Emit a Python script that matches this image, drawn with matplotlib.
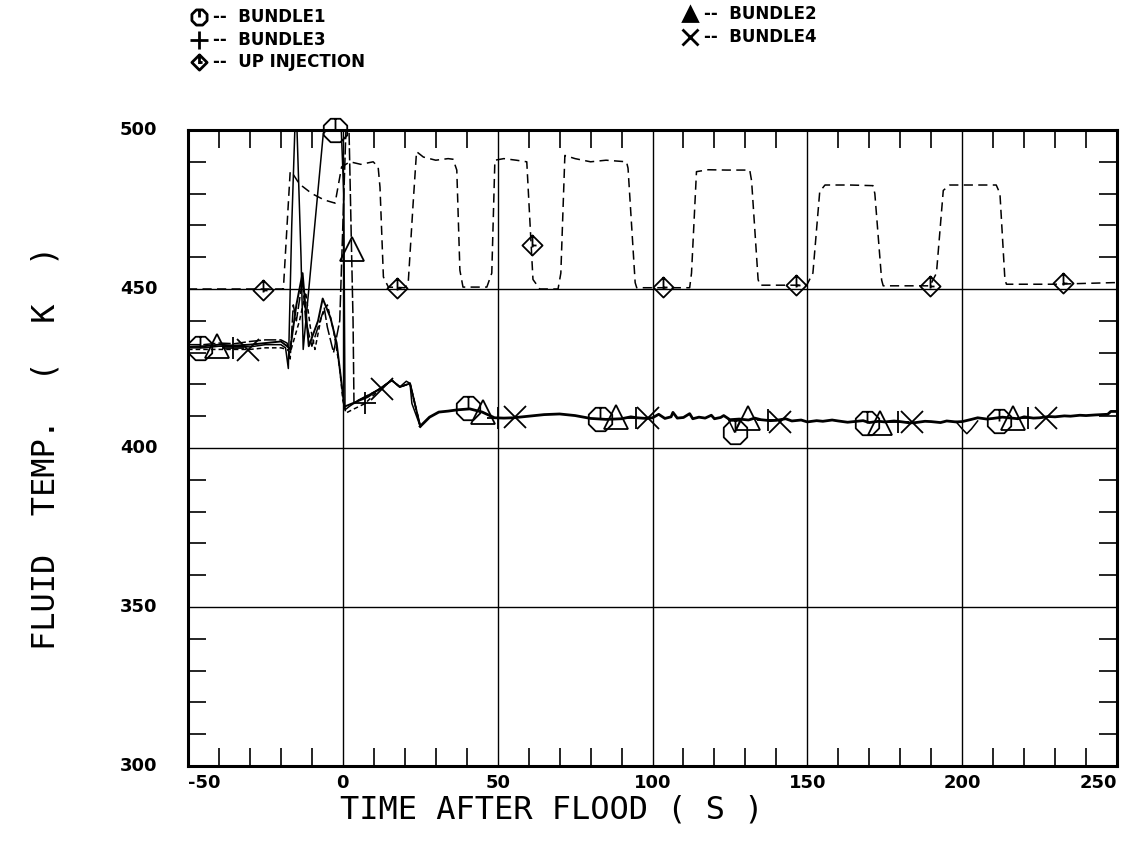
import numpy as np
import matplotlib
matplotlib.use("Agg")
import matplotlib.pyplot as plt
from matplotlib.path import Path
from matplotlib.lines import Line2D

# ---------------- data ----------------
# shared settled tail of the four bundle traces (after reflood)
tail_x = [25, 28, 31, 34, 37, 41, 45, 49, 52, 55, 60, 65, 70, 75, 80, 85, 90, 93, 95, 98,
          100, 102, 104, 106, 106.6, 108, 110, 112, 113, 115, 117, 119, 120, 122, 123, 125,
          128, 131, 133, 135, 138, 140, 143, 145, 148, 150, 153, 155, 158, 160, 163, 165,
          168, 170, 173, 175, 178, 180, 183, 185, 188, 190, 193, 195, 198, 200, 203, 205,
          208, 210, 213, 215, 218, 220, 223, 225, 228, 230, 233, 235, 238, 240, 243, 245,
          247, 248, 250]
tail_y = [406.8, 409.7, 411.3, 411.6, 412.0, 412.3, 411.3, 409.5, 409.4, 409.5, 410.0, 410.5,
          410.7, 410.2, 409.3, 409.0, 409.2, 409.8, 409.5, 409.3, 409.5, 410.6, 409.3, 409.8,
          411.2, 409.4, 409.6, 410.8, 409.2, 409.7, 409.4, 410.3, 409.2, 409.6, 410.2, 408.9,
          409.1, 408.8, 409.4, 408.9, 408.6, 408.7, 409.2, 408.5, 408.8, 408.2, 408.6, 408.4,
          408.8, 408.5, 408.1, 408.3, 408.6, 408.0, 408.4, 408.2, 408.5, 408.3, 407.9, 408.0,
          408.4, 408.3, 408.0, 408.5, 408.2, 408.3, 409.0, 409.5, 409.1, 409.3, 409.7, 409.5,
          409.2, 409.8, 409.4, 409.5, 409.9, 409.8, 410.1, 410.0, 410.3, 410.2, 410.4, 410.5,
          410.6, 411.5, 411.5]

b1_x = [-50, -45, -40, -35, -30, -25, -20, -18.5, -17.6, -16.5, -15.5, -14.8, -13.5, -12.8,
        -6.3, -5, -2.5, -0.5, 0.3, 0.7, 2, 5, 8, 12, 15.8, 18.4, 20.5, 21.7, 22.3, 25]
b1_y = [431.5, 431.5, 432, 432, 431.8, 432.5, 432.5, 431.5, 425, 470, 500, 500, 460, 431,
        499, 500, 500, 500, 480, 412, 413, 415, 416.5, 418.6, 421.3, 419.2, 421,
        420.3, 414, 406.8]
b1_dip_x = [124.5, 126.5, 128.5]
b1_dip_y = [409, 405, 409]

b2_x = [-50, -45, -40, -35, -30, -25, -20, -18, -17, -16, -15, -13, -12, -10, -8, -6, -5,
        -3, -1, 0, 1, 2, 2.8, 3.3, 3.6, 5, 8, 12, 15.8, 18.4, 21.7, 25]
b2_y = [432.5, 432.5, 433, 432.8, 433.5, 434, 434, 433, 428, 445, 440, 453, 440, 432, 438,
        444, 438, 430, 440, 470, 500, 500, 462.7, 440, 414, 415, 416.5, 418.6, 421.3, 419.2,
        420.3, 406.8]

b3_x = [-50, -45, -40, -35, -30, -25, -20, -18, -17, -14, -12, -10.5, -9, -7, -5, -3, -1,
        0, 1, 3, 7.2, 12, 15.8, 18.4, 21.7, 25]
b3_y = [431, 431, 431, 431, 431, 431.5, 431.5, 431, 430, 440, 449, 438, 431, 441, 445, 437,
        425, 415, 411, 412, 414, 418.6, 421.3, 419.2, 420.3, 406.8]
b3_hook_x = [198, 200, 201.5, 203, 205]
b3_hook_y = [408.3, 406, 404.5, 406, 408.5]

b4_x = [-50, -45, -40, -35, -30, -25, -20, -18, -17, -15, -13, -11, -8, -6.5, -4, -2,
        -0.5, 0.5, 3, 8, 12.5, 15.8, 18.4, 21.7, 25]
b4_y = [431.8, 432, 432.5, 432.2, 432.5, 433, 433.5, 432, 431, 445, 455, 432, 440, 447,
        441, 433, 421, 413, 414, 416, 419, 421.3, 419.2, 420.3, 406.8]

up_x = [-50, -30, -20, -19.2, -17, -16, -14, -10, -6, -2.5, -0.4, 2.3, 5.8, 9.8, 11.4, 12,
        13.1, 14.7, 20, 21.1, 22.7, 23.8, 26, 30, 34, 35.6, 36.8, 37.8, 38.8, 46.5, 48.1,
        49.1, 52, 56, 59.4, 61.4, 63.6, 69.5, 70.4, 71.7, 75, 80, 85, 91.6, 92.1, 94.4,
        94.9, 112, 112.6, 114.2, 118, 124, 131.4, 132, 134.1, 134.7, 149.8, 151.8, 154,
        155.7, 163.7, 171.2, 171.8, 174, 174.5, 189.6, 191.7, 193.9, 196, 211, 212.2,
        213.8, 214.3, 230, 248.7, 250]
up_y = [450, 450, 450, 450, 487, 486, 483, 480, 478, 477, 488.4, 490, 489.2, 490, 488.4,
        482, 453.8, 450.6, 450.4, 451.7, 476.9, 493.2, 491.5, 490.5, 491, 490.8, 487.4,
        455.9, 450.6, 450.6, 455, 490.5, 491, 490.5, 490, 453, 450, 450, 455, 492, 491,
        490, 490.5, 490, 488, 452, 450.4, 450.4, 455, 486.9, 487.5, 487.4, 487.4, 484,
        453, 451.2, 451.2, 455, 480.6, 482.7, 482.7, 482.5, 480, 452.8, 451, 451, 455,
        481, 482.7, 482.7, 480, 453, 451.5, 451.5, 452, 452]

# marker positions
b1_mx = [-46.1, -2.5, 40.4, 83.2, 126.5, 169.2, 211.9]
b1_my = [431.3, 500, 412.5, 409, 405, 408, 408.5]
b2_mx = [-40.7, 2.8, 45.3, 88.2, 131, 173.6, 216.3]
b2_my = [432, 462.7, 411.3, 409.8, 409.5, 408, 409.5]
b3_mx = [-35.5, 7.2, 50.1, 94.7, 137.3, 179.2, 221.4]
b3_my = [431.5, 414, 409.5, 409.5, 408.8, 408.3, 409.5]
b4_mx = [-30.6, 12.5, 55.6, 98.5, 141.2, 183.8, 227]
b4_my = [430.7, 418.7, 409.7, 409.3, 408.3, 408.2, 409.5]
up_mx = [-25.8, 17.5, 61, 103.4, 146.5, 189.6, 232.6]
up_my = [449.6, 450.3, 463.8, 450.6, 451.2, 451, 451.8]

legend_labels = ["BUNDLE1", "BUNDLE2", "BUNDLE3", "BUNDLE4", "UP INJECTION"]
x_ticks = [-50, 0, 50, 100, 150, 200, 250]
y_ticks = [300, 350, 400, 450, 500]

# ---------------- custom plotter-style markers ----------------
ang = np.deg2rad(22.5 + 45 * np.arange(8))
oct_verts = [(np.cos(a), np.sin(a)) for a in ang]
oct_path = Path(oct_verts + [oct_verts[0], (0, 0.93), (0, 0)],
                [Path.MOVETO] + [Path.LINETO] * 7 + [Path.CLOSEPOLY, Path.MOVETO, Path.LINETO])
dia_path = Path([(0, 1), (1, 0), (0, -1), (-1, 0), (0, 1), (0, 1), (0, -0.2), (0, 0), (0.4, 0)],
                [Path.MOVETO, Path.LINETO, Path.LINETO, Path.LINETO, Path.CLOSEPOLY,
                 Path.MOVETO, Path.LINETO, Path.MOVETO, Path.LINETO])

W, H = 1137, 841
fig = plt.figure(figsize=(W / 100, H / 100), dpi=100)
ax = fig.add_axes([188 / W, 1 - 766 / H, (1117 - 188) / W, (766 - 130) / H])

ax.set_xlim(-50, 250)
ax.set_ylim(300, 500)

lw = 1.1
ax.plot(tail_x, tail_y, color="black", lw=2.0)
ax.plot(b1_x, b1_y, color="black", lw=lw)
ax.plot(b1_dip_x, b1_dip_y, color="black", lw=lw)
ax.plot(b2_x, b2_y, color="black", lw=lw, dashes=(8, 2))
ax.plot(b3_x, b3_y, color="black", lw=lw, dashes=(3, 2))
ax.plot(b3_hook_x, b3_hook_y, color="black", lw=lw)
ax.plot(b4_x, b4_y, color="black", lw=1.4)
ax.plot(up_x, up_y, color="black", lw=1.1, dashes=(6, 3.5))

mk = dict(ls="none", mfc="none", mec="black", mew=1.3, clip_on=False)
ax.plot(b1_mx, b1_my, marker=oct_path, ms=17, **mk)
ax.plot(b2_mx, b2_my, marker="^", ms=17, **mk)
ax.plot(b3_mx, b3_my, marker="+", ms=16, **mk)
ax.plot(b4_mx, b4_my, marker="x", ms=16, **mk)
ax.plot(up_mx, up_my, marker=dia_path, ms=14.5, **mk)

# grid at major values
for xv in x_ticks[1:-1]:
    ax.axvline(xv, color="black", lw=1.0)
for yv in y_ticks[1:-1]:
    ax.axhline(yv, color="black", lw=1.0)

ax.set_xticks(x_ticks)
ax.set_yticks(y_ticks)
ax.set_xticks(np.arange(-40, 250, 10), minor=True)
ax.set_yticks(np.arange(310, 500, 10), minor=True)
ax.tick_params(which="major", length=0, pad=6)
ax.tick_params(which="minor", direction="in", length=13, width=1.2,
               top=True, right=True, bottom=True, left=True)
for s in ax.spines.values():
    s.set_linewidth(2.2)

tick_font = dict(family="DejaVu Sans", weight="bold", size=13)
ax.set_xticklabels([str(v) for v in x_ticks], **tick_font)
ax.set_yticklabels([str(v) for v in y_ticks], **tick_font)
xl = ax.get_xticklabels()
xl[0].set_horizontalalignment("left")
xl[-1].set_horizontalalignment("right")
ax.tick_params(axis="y", pad=22)
for t in ax.get_yticklabels():
    t.set_verticalalignment("center")

ax.set_xlabel("TIME AFTER FLOOD ( S )", fontsize=23, family="DejaVu Sans Mono")
ax.xaxis.set_label_coords(0.392, -0.045, transform=ax.transAxes)
ax.xaxis.label.set_va("top")
ax.set_ylabel("FLUID  TEMP.  (  K  )", fontsize=23, family="DejaVu Sans Mono",
              labelpad=42)

# plotter-style key at the top
def fx(px):
    return px / W

def fy(py):
    return 1 - py / H

key = [(oct_path, 11, 199, 17, legend_labels[0], "none"),
       ("^", 10, 690, 14, legend_labels[1], "black"),
       ("+", 13, 199, 40, legend_labels[2], "none"),
       ("x", 11, 690, 37, legend_labels[3], "none"),
       (dia_path, 11, 199, 62, legend_labels[4], "none")]
for m, ms, px, py, lab, fc in key:
    fig.add_artist(Line2D([fx(px)], [fy(py)], marker=m, ms=ms, mfc=fc, mec="black",
                          mew=2.0, ls="none", transform=fig.transFigure))
    fig.text(fx(px + 14), fy(py), "--  " + lab, fontsize=12, weight="bold",
             family="DejaVu Sans", va="center", ha="left")

fig.savefig("out.png", dpi=100)
